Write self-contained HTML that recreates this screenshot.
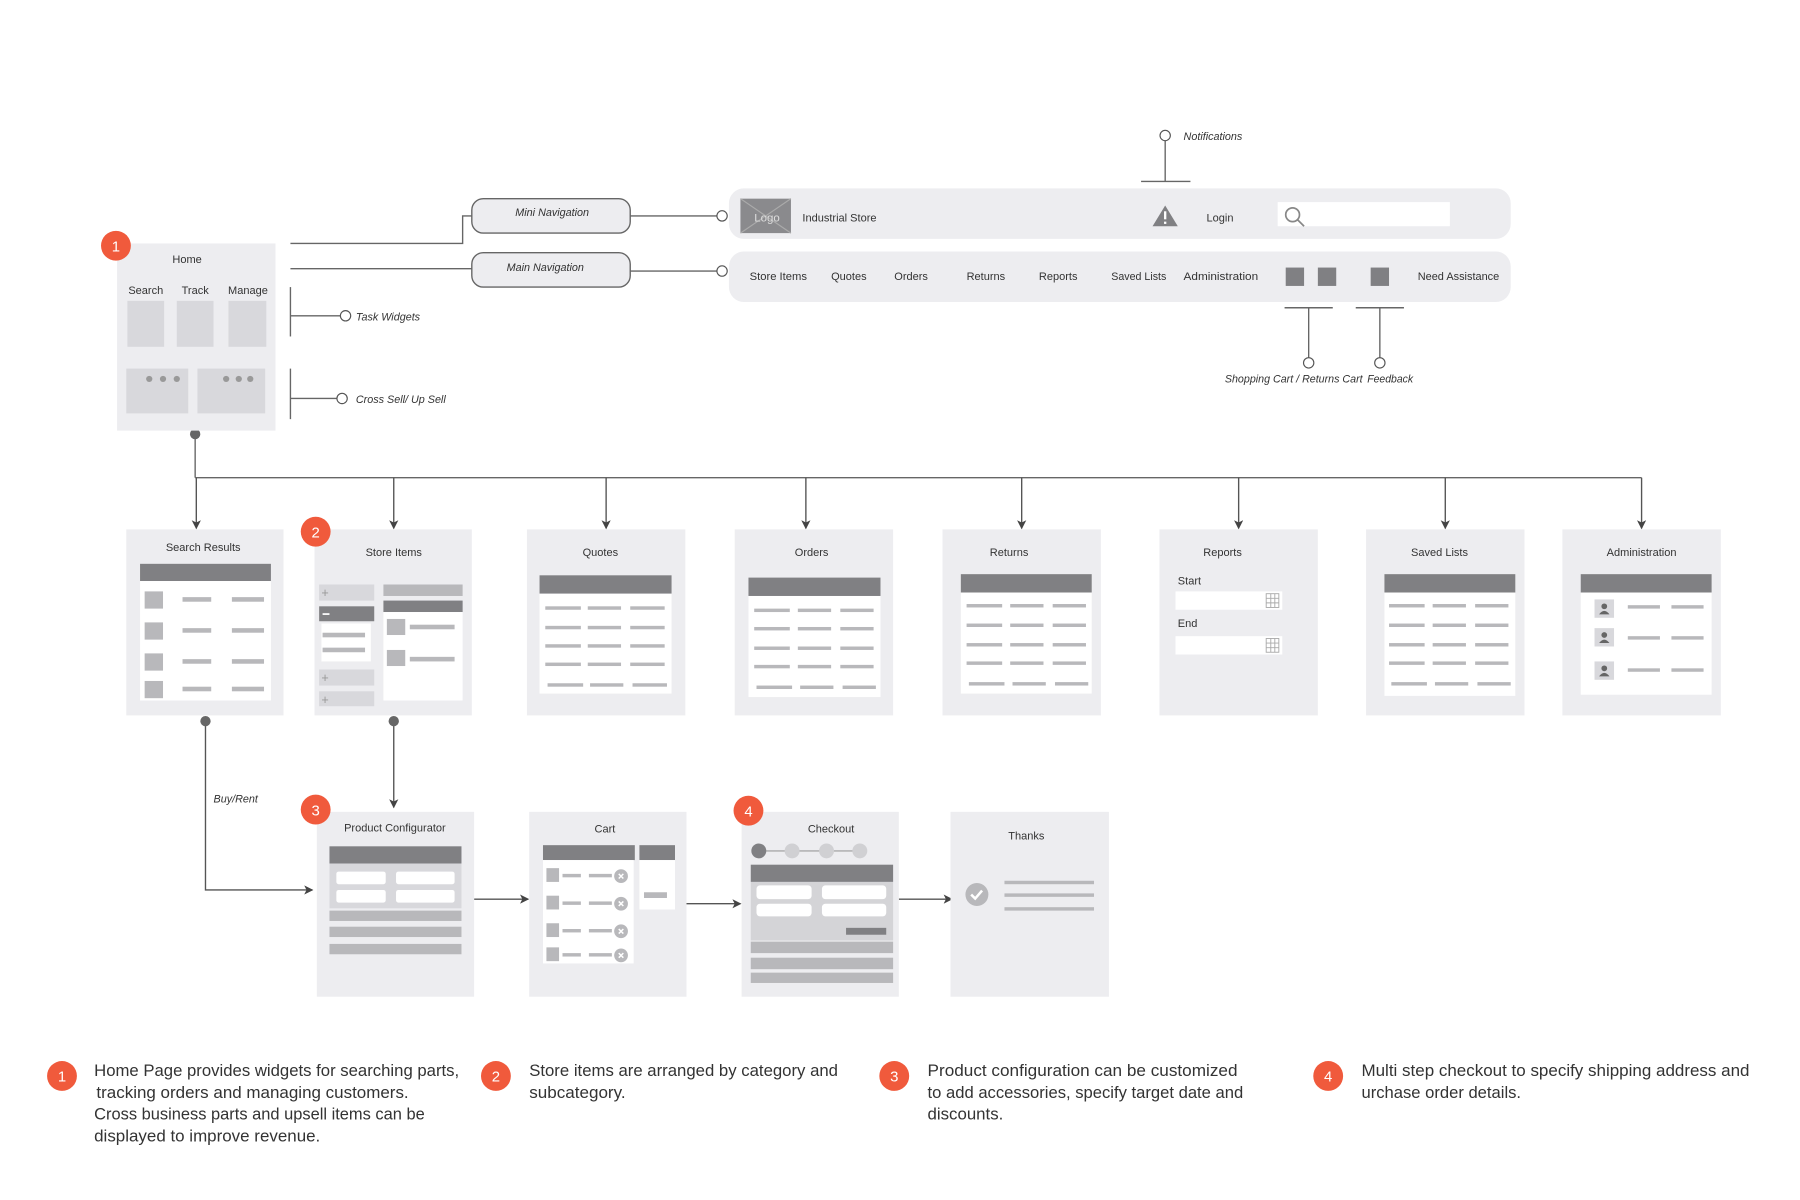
<!DOCTYPE html>
<html><head><meta charset="utf-8"><style>
html,body{margin:0;padding:0;background:#fff;width:1800px;height:1200px;overflow:hidden}
svg{display:block}
text{font-family:"Liberation Sans",sans-serif;fill:#333}
.t{font-size:9.6px}
.i{font-size:9.4px;font-style:italic}
.b{font-size:14.2px;fill:#333}
.n{font-size:13px;fill:#fff;text-anchor:middle}
</style></head><body>
<svg width="1800" height="1200" viewBox="0 0 1568 1045" preserveAspectRatio="none" xmlns="http://www.w3.org/2000/svg">
<defs>
<marker id="a" markerWidth="8" markerHeight="8" refX="7" refY="4" orient="auto" markerUnits="userSpaceOnUse"><path d="M0,0 L8,4 L0,8 L2,4z" fill="#444"/></marker>
</defs>
<g stroke="#666" stroke-width="1.2" fill="none">
<polyline points="253,212 403,212 403,188 411,188"/>
<line x1="253" y1="234" x2="411" y2="234"/>
<line x1="549" y1="188" x2="625" y2="188"/>
<line x1="549" y1="236" x2="625" y2="236"/>
<line x1="253" y1="250" x2="253" y2="293"/><line x1="253" y1="275" x2="297" y2="275"/>
<line x1="253" y1="321" x2="253" y2="365"/><line x1="253" y1="347" x2="294" y2="347"/>
<line x1="1015" y1="122" x2="1015" y2="158"/><line x1="994" y1="158" x2="1037" y2="158"/>
<line x1="1119" y1="268" x2="1161" y2="268"/><line x1="1181" y1="268" x2="1223" y2="268"/>
<line x1="1140" y1="268" x2="1140" y2="312"/><line x1="1202" y1="268" x2="1202" y2="312"/>
<line x1="170" y1="378" x2="170" y2="416"/>
<line x1="170" y1="416" x2="1430" y2="416"/>
</g>
<g stroke="#555" stroke-width="1.2" fill="none" marker-end="url(#a)">
<line x1="171" y1="416" x2="171" y2="460"/>
<line x1="343" y1="416" x2="343" y2="460"/>
<line x1="528" y1="416" x2="528" y2="460"/>
<line x1="702" y1="416" x2="702" y2="460"/>
<line x1="890" y1="416" x2="890" y2="460"/>
<line x1="1079" y1="416" x2="1079" y2="460"/>
<line x1="1259" y1="416" x2="1259" y2="460"/>
<line x1="1430" y1="416" x2="1430" y2="460"/>
<polyline points="179,628 179,775 272,775"/>
<line x1="343" y1="628" x2="343" y2="703"/>
<line x1="413" y1="783" x2="460" y2="783"/>
<line x1="598" y1="787" x2="645" y2="787"/>
<line x1="783" y1="783" x2="829" y2="783"/>
</g>
<g fill="#fff" stroke="#555" stroke-width="1">
<circle cx="629" cy="188" r="4.5"/><circle cx="629" cy="236" r="4.5"/>
<circle cx="301" cy="275" r="4.5"/><circle cx="298" cy="347" r="4.5"/>
<circle cx="1015" cy="118" r="4.5"/>
<circle cx="1140" cy="316" r="4.5"/><circle cx="1202" cy="316" r="4.5"/>
</g>
<g fill="#666"><circle cx="170" cy="378" r="4.5"/><circle cx="179" cy="628" r="4.5"/><circle cx="343" cy="628" r="4.5"/></g>

<rect x="411" y="173" width="138" height="30" rx="10" fill="#ededf0" stroke="#666" stroke-width="1.2"/>
<text class="i" x="481" y="188" text-anchor="middle">Mini Navigation</text>
<rect x="411" y="220" width="138" height="30" rx="10" fill="#ededf0" stroke="#666" stroke-width="1.2"/>
<text class="i" x="475" y="236" text-anchor="middle">Main Navigation</text>
<text class="i" x="310" y="279">Task Widgets</text>
<text class="i" x="310" y="351">Cross Sell/ Up Sell</text>
<text class="i" x="1031" y="122">Notifications</text>
<text class="i" x="1067" y="333" textLength="120" lengthAdjust="spacingAndGlyphs">Shopping Cart / Returns Cart</text>
<text class="i" x="1191" y="333" textLength="40" lengthAdjust="spacingAndGlyphs">Feedback</text>
<text class="i" x="186" y="699">Buy/Rent</text>

<rect x="635" y="164" width="681" height="44" rx="13" fill="#ededf0"/>
<rect x="645" y="173" width="44" height="30" fill="#8a8a8d"/>
<path d="M645,173 L689,203 M689,173 L645,203" stroke="#aaa" stroke-width="1"/>
<text x="657" y="193" style="font-size:10px;fill:#ddd">Logo</text>
<text class="t" x="699" y="193">Industrial Store</text>
<path d="M1015,179 L1026,197 L1004,197z" fill="#808083"/>
<rect x="1014" y="184" width="2" height="7" fill="#fff"/><rect x="1014" y="193" width="2" height="2" fill="#fff"/>
<text class="t" x="1051" y="193">Login</text>
<rect x="1113" y="176" width="150" height="21" fill="#fff"/>
<circle cx="1126" cy="187" r="6" fill="none" stroke="#888" stroke-width="1.5"/>
<line x1="1130" y1="191" x2="1136" y2="197" stroke="#888" stroke-width="1.5"/>
<rect x="635" y="219" width="681" height="44" rx="13" fill="#ededf0"/>
<text class="t" x="653" y="244" textLength="50" lengthAdjust="spacingAndGlyphs">Store Items</text><text class="t" x="724" y="244">Quotes</text><text class="t" x="779" y="244">Orders</text><text class="t" x="842" y="244">Returns</text><text class="t" x="905" y="244">Reports</text><text class="t" x="968" y="244" textLength="48" lengthAdjust="spacingAndGlyphs">Saved Lists</text><text class="t" x="1031" y="244" textLength="65" lengthAdjust="spacingAndGlyphs">Administration</text><text class="t" x="1235" y="244" textLength="71" lengthAdjust="spacingAndGlyphs">Need Assistance</text>
<g fill="#808083"><rect x="1120" y="233" width="16" height="16"/><rect x="1148" y="233" width="16" height="16"/><rect x="1194" y="233" width="16" height="16"/></g>

<rect x="102" y="212" width="138" height="163" fill="#ededf0"/>
<text class="t" x="163" y="229" text-anchor="middle">Home</text>
<text class="t" x="127" y="256" text-anchor="middle">Search</text>
<text class="t" x="170" y="256" text-anchor="middle">Track</text>
<text class="t" x="216" y="256" text-anchor="middle">Manage</text>
<g fill="#d8d8dc"><rect x="111" y="262" width="32" height="40"/><rect x="154" y="262" width="32" height="40"/><rect x="199" y="262" width="33" height="40"/><rect x="110" y="321" width="54" height="39"/><rect x="172" y="321" width="59" height="39"/></g>
<g fill="#999"><circle cx="130" cy="330" r="2.7"/><circle cx="142" cy="330" r="2.7"/><circle cx="154" cy="330" r="2.7"/><circle cx="197" cy="330" r="2.7"/><circle cx="208" cy="330" r="2.7"/><circle cx="218" cy="330" r="2.7"/></g>

<g fill="#ededf0">
<rect x="110" y="461" width="137" height="162"/><rect x="274" y="461" width="137" height="162"/><rect x="459" y="461" width="138" height="162"/><rect x="640" y="461" width="138" height="162"/><rect x="821" y="461" width="138" height="162"/><rect x="1010" y="461" width="138" height="162"/><rect x="1190" y="461" width="138" height="162"/><rect x="1361" y="461" width="138" height="162"/>
<rect x="276" y="707" width="137" height="161"/><rect x="461" y="707" width="137" height="161"/><rect x="646" y="707" width="137" height="161"/><rect x="828" y="707" width="138" height="161"/>
</g>
<text class="t" x="177" y="480" text-anchor="middle">Search Results</text>
<text class="t" x="343" y="484" text-anchor="middle">Store Items</text>
<text class="t" x="523" y="484" text-anchor="middle">Quotes</text>
<text class="t" x="707" y="484" text-anchor="middle">Orders</text>
<text class="t" x="879" y="484" text-anchor="middle">Returns</text>
<text class="t" x="1065" y="484" text-anchor="middle">Reports</text>
<text class="t" x="1254" y="484" text-anchor="middle">Saved Lists</text>
<text class="t" x="1430" y="484" text-anchor="middle">Administration</text>
<text class="t" x="344" y="724" text-anchor="middle">Product Configurator</text>
<text class="t" x="527" y="725" text-anchor="middle">Cart</text>
<text class="t" x="724" y="725" text-anchor="middle">Checkout</text>
<text class="t" x="894" y="731" text-anchor="middle">Thanks</text>

<rect x="122" y="491" width="114" height="15" fill="#808083"/><rect x="122" y="506" width="114" height="104" fill="#fff"/>
<g fill="#b8b8bb">
<rect x="126" y="515" width="16" height="15"/><rect x="159" y="520" width="25" height="4"/><rect x="202" y="520" width="28" height="4"/>
<rect x="126" y="542" width="16" height="15"/><rect x="159" y="547" width="25" height="4"/><rect x="202" y="547" width="28" height="4"/>
<rect x="126" y="569" width="16" height="15"/><rect x="159" y="574" width="25" height="4"/><rect x="202" y="574" width="28" height="4"/>
<rect x="126" y="593" width="16" height="15"/><rect x="159" y="598" width="25" height="4"/><rect x="202" y="598" width="28" height="4"/>
</g>
<g fill="#d8d8dc"><rect x="278" y="509" width="48" height="14"/><rect x="278" y="583" width="48" height="14"/><rect x="278" y="602" width="48" height="13"/></g>
<rect x="278" y="528" width="48" height="13" fill="#808083"/>
<rect x="280" y="543" width="43" height="33" fill="#fff"/>
<rect x="334" y="509" width="69" height="10" fill="#b8b8bb"/><rect x="334" y="523" width="69" height="10" fill="#808083"/>
<rect x="334" y="533" width="69" height="77" fill="#fff"/>
<g fill="#b8b8bb"><rect x="281" y="551" width="37" height="4"/><rect x="281" y="564" width="37" height="4"/><rect x="337" y="539" width="16" height="14"/><rect x="357" y="544" width="39" height="4"/><rect x="337" y="566" width="16" height="14"/><rect x="357" y="572" width="39" height="4"/></g>
<text x="280" y="520" style="font-size:11px;fill:#999">+</text><text x="280" y="594" style="font-size:11px;fill:#999">+</text><text x="280" y="613" style="font-size:11px;fill:#999">+</text>
<rect x="281" y="534" width="6" height="1.5" fill="#fff"/>

<rect x="470" y="501" width="115" height="16" fill="#808083"/><rect x="470" y="517" width="115" height="87" fill="#fff"/>
<rect x="652" y="503" width="115" height="16" fill="#808083"/><rect x="652" y="519" width="115" height="88" fill="#fff"/>
<rect x="837" y="500" width="114" height="16" fill="#808083"/><rect x="837" y="516" width="114" height="88" fill="#fff"/>
<rect x="1206" y="500" width="114" height="16" fill="#808083"/><rect x="1206" y="516" width="114" height="90" fill="#fff"/>
<rect x="1377" y="500" width="114" height="16" fill="#808083"/><rect x="1377" y="516" width="114" height="89" fill="#fff"/>
<g fill="#b8b8bb">
<rect x="475" y="528" width="31" height="3"/><rect x="512" y="528" width="29" height="3"/><rect x="549" y="528" width="30" height="3"/>
<rect x="475" y="545" width="31" height="3"/><rect x="512" y="545" width="29" height="3"/><rect x="549" y="545" width="30" height="3"/>
<rect x="475" y="561" width="31" height="3"/><rect x="512" y="561" width="29" height="3"/><rect x="549" y="561" width="30" height="3"/>
<rect x="475" y="577" width="31" height="3"/><rect x="512" y="577" width="29" height="3"/><rect x="549" y="577" width="30" height="3"/>
<rect x="477" y="595" width="31" height="3"/><rect x="514" y="595" width="29" height="3"/><rect x="551" y="595" width="30" height="3"/>
<rect x="657" y="530" width="31" height="3"/><rect x="695" y="530" width="29" height="3"/><rect x="732" y="530" width="29" height="3"/>
<rect x="657" y="546" width="31" height="3"/><rect x="695" y="546" width="29" height="3"/><rect x="732" y="546" width="29" height="3"/>
<rect x="657" y="563" width="31" height="3"/><rect x="695" y="563" width="29" height="3"/><rect x="732" y="563" width="29" height="3"/>
<rect x="657" y="579" width="31" height="3"/><rect x="695" y="579" width="29" height="3"/><rect x="732" y="579" width="29" height="3"/>
<rect x="659" y="597" width="31" height="3"/><rect x="697" y="597" width="29" height="3"/><rect x="734" y="597" width="29" height="3"/>
<rect x="842" y="526" width="31" height="3"/><rect x="880" y="526" width="29" height="3"/><rect x="917" y="526" width="29" height="3"/>
<rect x="842" y="543" width="31" height="3"/><rect x="880" y="543" width="29" height="3"/><rect x="917" y="543" width="29" height="3"/>
<rect x="842" y="560" width="31" height="3"/><rect x="880" y="560" width="29" height="3"/><rect x="917" y="560" width="29" height="3"/>
<rect x="842" y="576" width="31" height="3"/><rect x="880" y="576" width="29" height="3"/><rect x="917" y="576" width="29" height="3"/>
<rect x="844" y="594" width="31" height="3"/><rect x="882" y="594" width="29" height="3"/><rect x="919" y="594" width="29" height="3"/>
<rect x="1210" y="526" width="31" height="3"/><rect x="1248" y="526" width="29" height="3"/><rect x="1285" y="526" width="29" height="3"/>
<rect x="1210" y="543" width="31" height="3"/><rect x="1248" y="543" width="29" height="3"/><rect x="1285" y="543" width="29" height="3"/>
<rect x="1210" y="560" width="31" height="3"/><rect x="1248" y="560" width="29" height="3"/><rect x="1285" y="560" width="29" height="3"/>
<rect x="1210" y="576" width="31" height="3"/><rect x="1248" y="576" width="29" height="3"/><rect x="1285" y="576" width="29" height="3"/>
<rect x="1212" y="594" width="31" height="3"/><rect x="1250" y="594" width="29" height="3"/><rect x="1287" y="594" width="29" height="3"/>
<rect x="1418" y="527" width="28" height="3"/><rect x="1456" y="527" width="28" height="3"/>
<rect x="1418" y="554" width="28" height="3"/><rect x="1456" y="554" width="28" height="3"/>
<rect x="1418" y="582" width="28" height="3"/><rect x="1456" y="582" width="28" height="3"/>
</g>
<g fill="#d8d8dc"><rect x="1389" y="522" width="17" height="16"/><rect x="1389" y="547" width="17" height="16"/><rect x="1389" y="576" width="17" height="16"/></g>
<g fill="#666"><circle cx="1397.5" cy="528" r="2.5"/><path d="M1393,535 Q1397.5,529 1402,535z"/><circle cx="1397.5" cy="553" r="2.5"/><path d="M1393,560 Q1397.5,554 1402,560z"/><circle cx="1397.5" cy="582" r="2.5"/><path d="M1393,589 Q1397.5,583 1402,589z"/></g>
<text class="t" x="1026" y="509">Start</text><text class="t" x="1026" y="546">End</text>
<rect x="1024" y="515" width="93" height="16" fill="#fff"/><rect x="1024" y="554" width="93" height="16" fill="#fff"/>
<g fill="none" stroke="#aaa" stroke-width="0.8"><rect x="1103" y="517" width="11" height="12"/><path d="M1103,521h11M1103,525h11M1107,517v12M1110.5,517v12"/><rect x="1103" y="556" width="11" height="12"/><path d="M1103,560h11M1103,564h11M1107,556v12M1110.5,556v12"/></g>

<rect x="287" y="737" width="115" height="15" fill="#808083"/>
<rect x="287" y="752" width="115" height="39" fill="#d8d8dc"/>
<g fill="#fff"><rect x="293" y="759" width="43" height="11" rx="2"/><rect x="345" y="759" width="51" height="11" rx="2"/><rect x="293" y="775" width="43" height="11" rx="2"/><rect x="345" y="775" width="51" height="11" rx="2"/></g>
<g fill="#b8b8bb"><rect x="287" y="793" width="115" height="9"/><rect x="287" y="807" width="115" height="9"/><rect x="287" y="822" width="115" height="9"/></g>
<rect x="473" y="736" width="80" height="13" fill="#808083"/><rect x="473" y="749" width="79" height="90" fill="#fff"/>
<rect x="557" y="736" width="31" height="13" fill="#808083"/><rect x="557" y="749" width="31" height="43" fill="#fff"/>
<g fill="#b8b8bb">
<rect x="476" y="756" width="11" height="12"/><rect x="490" y="761" width="16" height="3"/><rect x="513" y="761" width="20" height="3"/><circle cx="541" cy="763" r="6"/>
<rect x="476" y="780" width="11" height="12"/><rect x="490" y="785" width="16" height="3"/><rect x="513" y="785" width="20" height="3"/><circle cx="541" cy="787" r="6"/>
<rect x="476" y="804" width="11" height="12"/><rect x="490" y="809" width="16" height="3"/><rect x="513" y="809" width="20" height="3"/><circle cx="541" cy="811" r="6"/>
<rect x="476" y="825" width="11" height="12"/><rect x="490" y="830" width="16" height="3"/><rect x="513" y="830" width="20" height="3"/><circle cx="541" cy="832" r="6"/>
<rect x="561" y="777" width="20" height="5"/>
</g>
<g stroke="#fff" stroke-width="1.3"><path d="M539,761l4,4M543,761l-4,4M539,785l4,4M543,785l-4,4M539,809l4,4M543,809l-4,4M539,830l4,4M543,830l-4,4"/></g>
<line x1="661" y1="741" x2="749" y2="741" stroke="#aaa" stroke-width="1.2"/>
<circle cx="661" cy="741" r="6.5" fill="#808083"/><circle cx="690" cy="741" r="6.5" fill="#d0d0d3"/><circle cx="720" cy="741" r="6.5" fill="#d0d0d3"/><circle cx="749" cy="741" r="6.5" fill="#d0d0d3"/>
<rect x="654" y="753" width="124" height="15" fill="#808083"/>
<rect x="654" y="768" width="124" height="51" fill="#d4d4d7"/>
<g fill="#fff"><rect x="659" y="771" width="48" height="12" rx="3"/><rect x="716" y="771" width="56" height="12" rx="3"/><rect x="659" y="787" width="48" height="11" rx="3"/><rect x="716" y="787" width="56" height="11" rx="3"/></g>
<rect x="737" y="808" width="35" height="6" fill="#808083"/>
<g fill="#b8b8bb"><rect x="654" y="820" width="124" height="10"/><rect x="654" y="834" width="124" height="10"/><rect x="654" y="847" width="124" height="9"/></g>
<circle cx="851" cy="779" r="10" fill="#b8b8bb"/>
<path d="M846,779 l3.5,3.5 l6,-7" stroke="#fff" stroke-width="2.2" fill="none"/>
<g fill="#b8b8bb"><rect x="875" y="767" width="78" height="3"/><rect x="875" y="778" width="78" height="3"/><rect x="875" y="790" width="78" height="3"/></g>

<g fill="#f05a3c">
<circle cx="101" cy="214" r="13"/><circle cx="275" cy="463" r="13"/><circle cx="275" cy="705" r="13"/><circle cx="652" cy="706" r="13"/>
<circle cx="54" cy="937" r="13"/><circle cx="432" cy="937" r="13"/><circle cx="779" cy="937" r="13"/><circle cx="1157" cy="937" r="13"/>
</g>
<text class="n" x="101" y="219">1</text><text class="n" x="275" y="468">2</text><text class="n" x="275" y="710">3</text><text class="n" x="652" y="711">4</text>
<text class="n" x="54" y="942">1</text><text class="n" x="432" y="942">2</text><text class="n" x="779" y="942">3</text><text class="n" x="1157" y="942">4</text>

<text class="b" x="82" y="937" textLength="318" lengthAdjust="spacingAndGlyphs">Home Page provides widgets for searching parts,</text>
<text class="b" x="84" y="956" textLength="272" lengthAdjust="spacingAndGlyphs">tracking orders and managing customers.</text>
<text class="b" x="82" y="975" textLength="288" lengthAdjust="spacingAndGlyphs">Cross business parts and upsell items can be</text>
<text class="b" x="82" y="994" textLength="197" lengthAdjust="spacingAndGlyphs">displayed to improve revenue.</text>
<text class="b" x="461" y="937" textLength="269" lengthAdjust="spacingAndGlyphs">Store items are arranged by category and</text>
<text class="b" x="461" y="956" textLength="84" lengthAdjust="spacingAndGlyphs">subcategory.</text>
<text class="b" x="808" y="937" textLength="270" lengthAdjust="spacingAndGlyphs">Product configuration can be customized</text>
<text class="b" x="808" y="956" textLength="275" lengthAdjust="spacingAndGlyphs">to add accessories, specify target date and</text>
<text class="b" x="808" y="975" textLength="66" lengthAdjust="spacingAndGlyphs">discounts.</text>
<text class="b" x="1186" y="937" textLength="338" lengthAdjust="spacingAndGlyphs">Multi step checkout to specify shipping address and</text>
<text class="b" x="1186" y="956" textLength="139" lengthAdjust="spacingAndGlyphs">urchase order details.</text>
</svg>
</body></html>
